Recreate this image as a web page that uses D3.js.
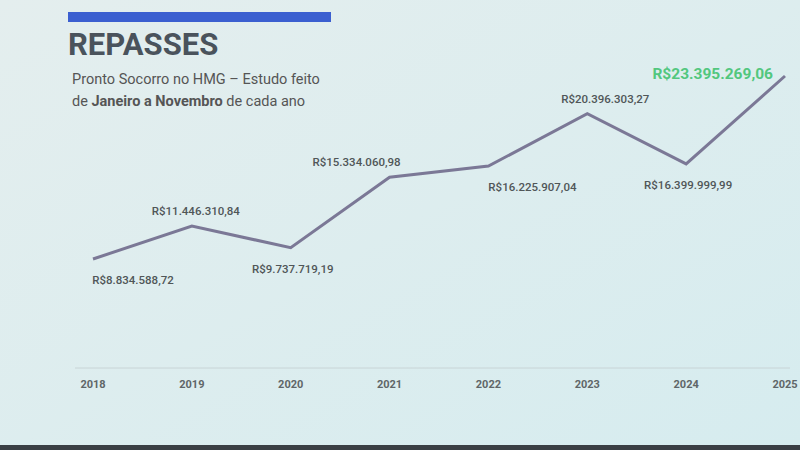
<!DOCTYPE html><html><head><meta charset="utf-8"><script src="https://cdn.jsdelivr.net/npm/d3@7"></script>
<style>body{margin:0;overflow:hidden}</style></head><body><svg id="c" width="800" height="450"></svg>
<script>
const years=["2018","2019","2020","2021","2022","2023","2024","2025"];
const values=[8834588.72,11446310.84,9737719.19,15334060.98,16225907.04,20396303.27,16399999.99,23395269.06];
const labels=["R$8.834.588,72","R$11.446.310,84","R$9.737.719,19","R$15.334.060,98","R$16.225.907,04","R$20.396.303,27","R$16.399.999,99","R$23.395.269,06"];
const below=[true,false,true,false,true,false,true,false];
const svg=d3.select("#c");
const defs=svg.append("defs");
const g=defs.append("linearGradient").attr("id","bg").attr("x1",0).attr("y1",0).attr("x2",1).attr("y2",1);
g.append("stop").attr("offset","0").attr("stop-color","#e4eeee");
g.append("stop").attr("offset","1").attr("stop-color","#d6ecef");
svg.append("rect").attr("width",800).attr("height",450).attr("fill","url(#bg)");
svg.append("rect").attr("x",0).attr("y",445).attr("width",800).attr("height",5).attr("fill","#3a3f44");
svg.append("rect").attr("x",68).attr("y",12).attr("width",263).attr("height",10).attr("fill","#3b5fd0");
svg.append("text").attr("x",68).attr("y",55).text("REPASSES").attr("font-family","Roboto, sans-serif").attr("font-weight","bold").attr("font-size",31).attr("fill","#4a535c");
const st=svg.append("g").attr("font-family","Roboto, sans-serif").attr("font-size",14.5).attr("fill","#555");
st.append("text").attr("x",72).attr("y",84).text("Pronto Socorro no HMG – Estudo feito");
const t2=st.append("text").attr("x",72).attr("y",106);
t2.append("tspan").text("de ");t2.append("tspan").attr("font-weight","bold").text("Janeiro a Novembro");t2.append("tspan").text(" de cada ano");
const x=d3.scalePoint().domain(years).range([93,785]);
const y=d3.scaleLinear().domain([0,23395269.06]).range([370,76]);
svg.append("line").attr("x1",75).attr("x2",790).attr("y1",368).attr("y2",368).attr("stroke","#c8d4d6").attr("stroke-width",1);
svg.selectAll(".yr").data(years).join("text").attr("x",d=>x(d)).attr("y",388).attr("text-anchor","middle").text(d=>d).attr("font-family","Roboto, sans-serif").attr("font-weight","bold").attr("font-size",11).attr("fill","#5f6668");
svg.append("path").datum(values).attr("d",d3.line().x((d,i)=>x(years[i])).y(d=>y(d))).attr("fill","none").attr("stroke","#7b7896").attr("stroke-width",3);
const dx=[40,4,2,-33,44,18,2,0];
svg.selectAll(".lb").data(values).join("text").attr("x",(d,i)=>i==7?x(years[i])-12:x(years[i])+dx[i]).attr("y",(d,i)=>i==7?y(d)+3:below[i]?y(d)+25:y(d)-11)
 .attr("text-anchor",(d,i)=>i==7?"end":"middle").text((d,i)=>labels[i]).attr("font-family","Roboto, sans-serif")
 .attr("font-weight",(d,i)=>i==7?"bold":"500").attr("font-size",(d,i)=>i==7?15.5:11.5).attr("fill",(d,i)=>i==7?"#52c77e":"#505658");
</script></body></html>
